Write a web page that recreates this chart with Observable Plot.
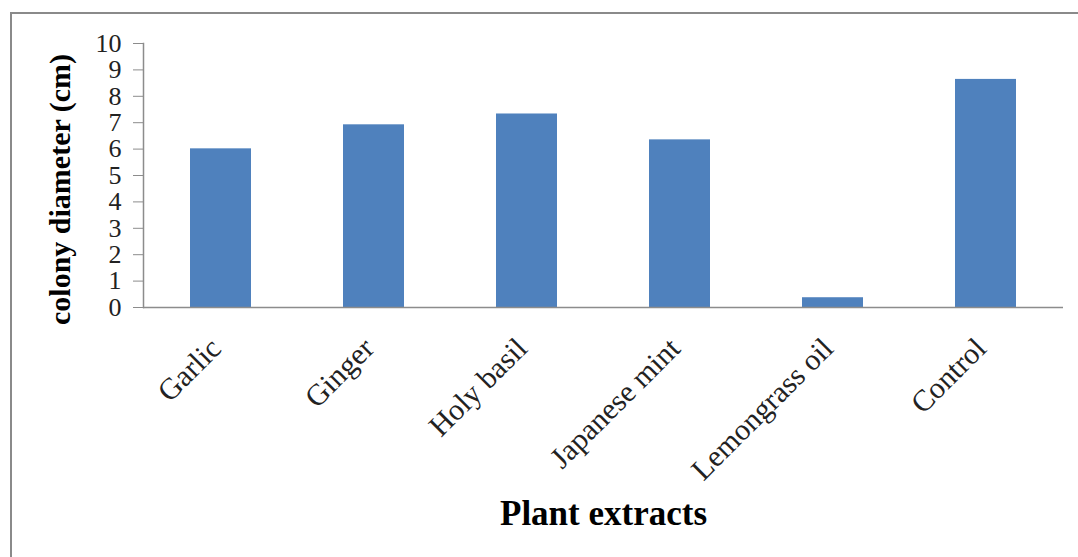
<!DOCTYPE html>
<html>
<head>
<meta charset="utf-8">
<script src="https://cdn.jsdelivr.net/npm/d3@7"></script>
<script src="https://cdn.jsdelivr.net/npm/@observablehq/plot@0.6"></script>
<style>
  html, body { margin: 0; padding: 0; background: #fff; }
  #wrap { position: relative; width: 1078px; height: 557px; overflow: hidden; background: #fff; }
  #border { position: absolute; left: 10px; top: 12px; width: 1200px; height: 700px;
            border-top: 2px solid #8a8a8a; border-left: 2px solid #8a8a8a; box-sizing: border-box; }
  #chart { position: absolute; left: 0; top: 0; }
</style>
</head>
<body>
<div id="wrap"><div id="border"></div><div id="chart"></div></div>
<script>
const categories = ["Garlic", "Ginger", "Holy basil", "Japanese mint", "Lemongrass oil", "Control"];
const diameters = [6.01, 6.92, 7.33, 6.35, 0.37, 8.64];
const yTicks = [0, 1, 2, 3, 4, 5, 6, 7, 8, 9, 10];
const yLabel = "colony diameter (cm)";
const xLabel = "Plant extracts";

const data = categories.map((c, i) => ({category: c, value: diameters[i]}));
const serif = "'Liberation Serif', 'Times New Roman', serif";
const axisGray = "#8c8c8c";

const chart = Plot.plot({
  width: 1078,
  height: 557,
  marginLeft: 143,
  marginRight: 15,
  marginTop: 43,
  marginBottom: 250,
  style: {fontFamily: serif, background: "transparent", overflow: "visible"},
  x: {domain: categories, paddingInner: 0.6, paddingOuter: 0.3, align: 0.5},
  y: {domain: [0, 10]},
  marks: [
    Plot.barY(data, {x: "category", y: "value", fill: "#4f81bd"}),
    Plot.ruleY([0], {stroke: axisGray, strokeWidth: 1.5}),
    Plot.frame({anchor: "left", stroke: axisGray, strokeWidth: 1.5}),
    Plot.axisY({ticks: yTicks, tickSize: 10, tickPadding: 12, fontSize: 26, label: null,
                stroke: axisGray, fill: "#222", tickFormat: d => String(d)}),
    Plot.axisX({tickSize: 0, tickPadding: 36, tickRotate: -45, fontSize: 30, label: null, fill: "#222", dx: -5}),
    Plot.text([yLabel], {frameAnchor: "left", dx: -83, dy: 14, rotate: -90, fontSize: 30,
                fontWeight: "bold", textAnchor: "middle", lineAnchor: "middle", fill: "#000"}),
    Plot.text([xLabel], {frameAnchor: "bottom", dy: 206, fontSize: 35, fontWeight: "bold",
                textAnchor: "middle", lineAnchor: "middle", fill: "#000"})
  ]
});
document.getElementById("chart").appendChild(chart);
</script>
</body>
</html>
